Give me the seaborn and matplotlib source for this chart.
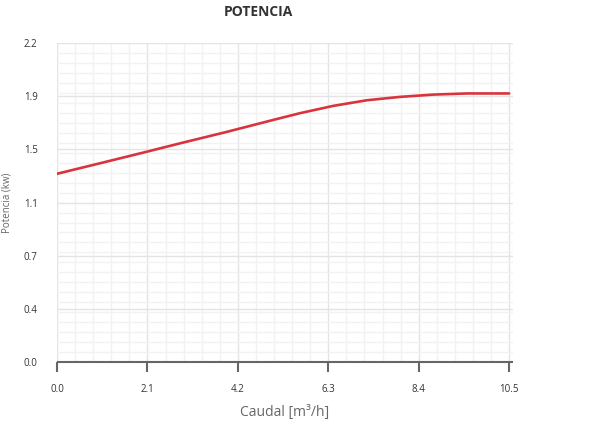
import numpy as np
import pandas as pd
import matplotlib
matplotlib.use("Agg")
import matplotlib.pyplot as plt
from matplotlib.ticker import MultipleLocator, FixedLocator, FormatStrFormatter
import seaborn as sns

caudal = [0.0, 1.0, 2.1, 2.86, 3.94, 5.02, 5.65, 6.42, 7.19, 7.97, 8.74, 9.52, 10.5]
potencia = [1.322, 1.396, 1.478, 1.536, 1.616, 1.700, 1.748, 1.799, 1.838, 1.862, 1.878, 1.886, 1.886]
x_ticks = [0.0, 2.1, 4.2, 6.3, 8.4, 10.5]
y_max = 2.24

sns.set_theme(style="white")
plt.rcParams['font.family'] = ['Open Sans', 'DejaVu Sans']

df = pd.DataFrame({"Caudal": caudal, "Potencia": potencia})

fig = plt.figure(figsize=(6.0, 4.26), dpi=100)
ax = fig.add_axes([0.095, 0.150, 0.760, 0.749])

sns.lineplot(data=df, x="Caudal", y="Potencia", ax=ax, color="#d9343c", linewidth=1.9)

ax.set_xlim(0, 10.59)
ax.set_ylim(0, y_max)
ax.xaxis.set_major_locator(FixedLocator(x_ticks))
ax.xaxis.set_minor_locator(MultipleLocator(0.42))
ax.yaxis.set_major_locator(FixedLocator(np.linspace(0, y_max, 7)))
ax.yaxis.set_minor_locator(MultipleLocator(0.07))
ax.xaxis.set_major_formatter(FormatStrFormatter('%.1f'))
ax.yaxis.set_major_formatter(FormatStrFormatter('%.1f'))

ax.grid(which='major', color='#e4e4e4', linewidth=1.0)
ax.grid(which='minor', color='#f2f2f2', linewidth=1.0)
ax.set_axisbelow(True)

for s in ['top', 'right', 'left']:
    ax.spines[s].set_visible(False)
ax.spines['bottom'].set_color('#666666')
ax.spines['bottom'].set_linewidth(1.5)
ax.spines['bottom'].set_capstyle('butt')
ax.spines['bottom'].set_bounds(0, 10.59)

ax.tick_params(axis='x', which='major', length=7, width=1.5, color='#666666',
               direction='out', bottom=True, labelsize=7, labelcolor='#333333', pad=9)
ax.tick_params(axis='x', which='minor', length=0)
ax.tick_params(axis='y', which='both', length=0, labelsize=7, labelcolor='#333333', pad=14)

ax.set_xlabel("Caudal [m³/h]", fontsize=10, color='#666666', labelpad=7)
ax.set_ylabel("Potencia (kw)", fontsize=7, color='#666666', labelpad=8)

fig.text(0.43, 0.972, "POTENCIA", ha='center', va='center', fontsize=10,
         fontweight='bold', color='#333333')

fig.savefig("out.png", dpi=100)
